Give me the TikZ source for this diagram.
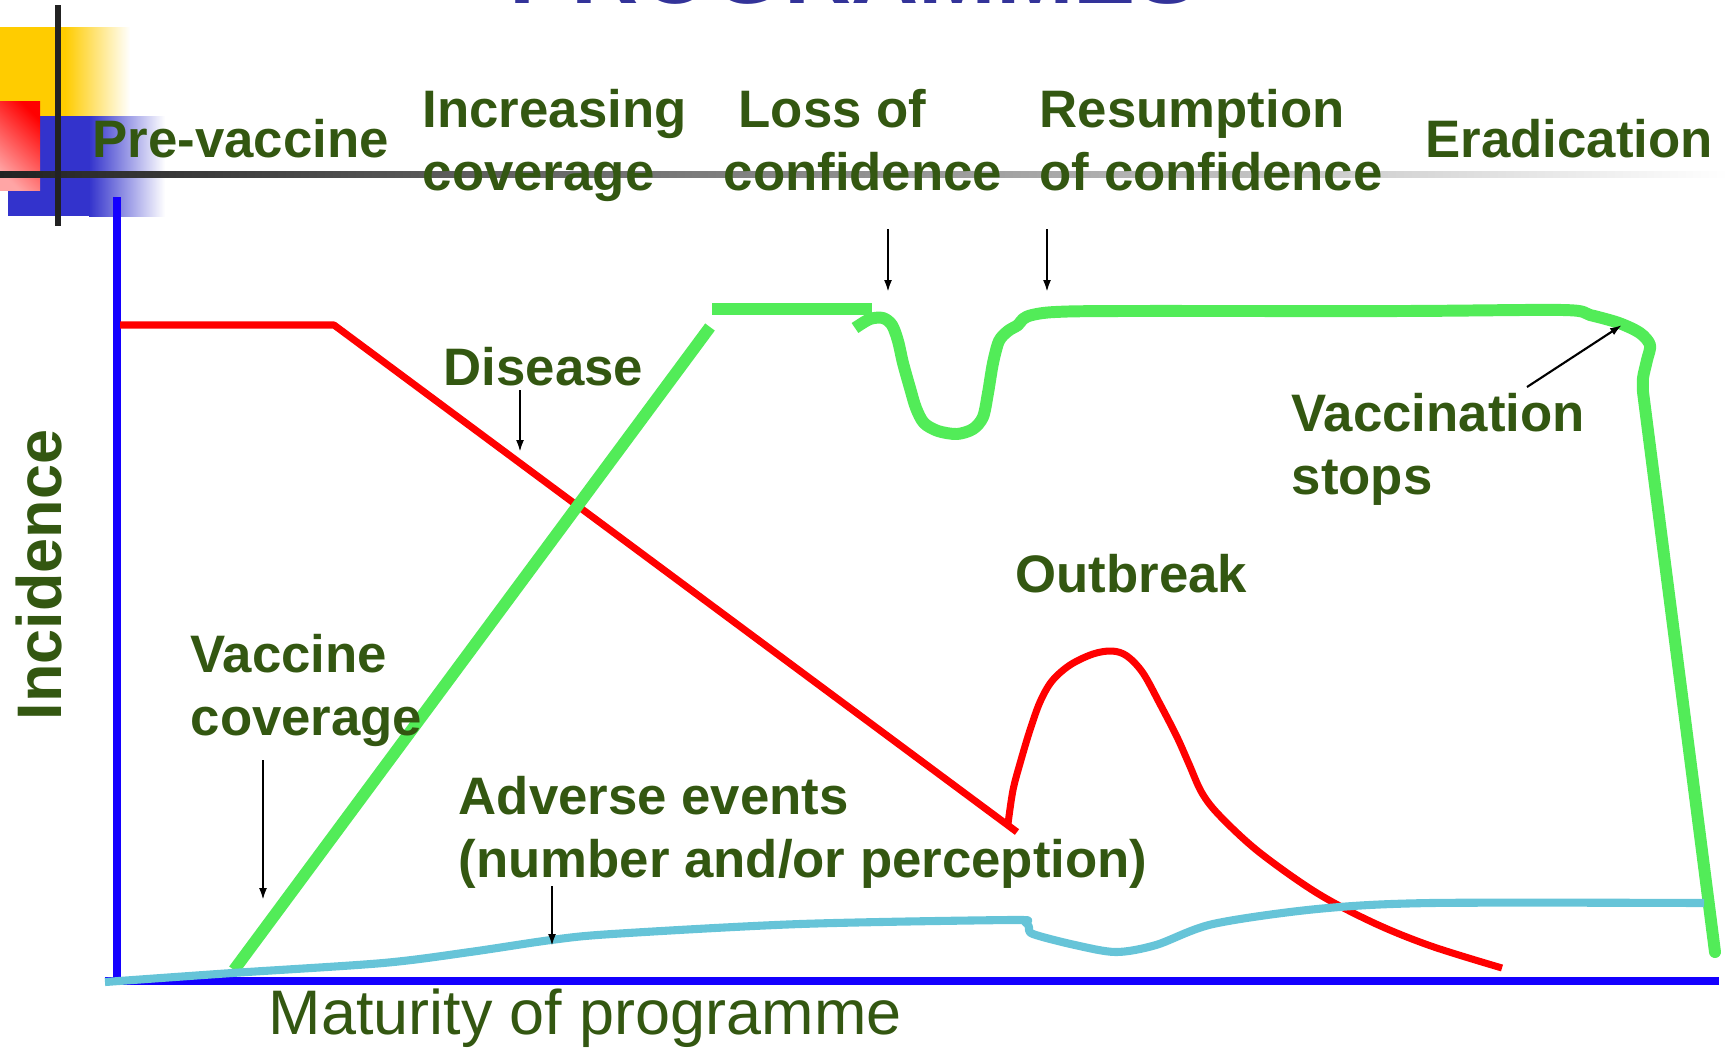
\documentclass[tikz,border=0pt]{standalone}
\usepackage{fontspec}
\setmainfont{Liberation Sans}
\usepackage{tikz}
\usetikzlibrary{arrows.meta}

\definecolor{labelgreen}{RGB}{51,87,17}
\definecolor{coveragegreen}{RGB}{82,236,88}
\definecolor{adversecyan}{RGB}{102,196,216}
\definecolor{axisblue}{RGB}{20,0,255}
\definecolor{titleblue}{RGB}{51,51,153}
\definecolor{decoyellow}{RGB}{255,204,0}
\definecolor{decoblue}{RGB}{51,51,204}
\definecolor{decopink}{RGB}{255,165,165}
\definecolor{rulegray}{RGB}{34,34,34}

\tikzset{
  lbl/.style={text=labelgreen,font=\bfseries\fontsize{15}{17.9}\selectfont,inner sep=0pt,anchor=base west,align=left},
  pointer/.style={black,line width=0.6pt,-{Latex[length=0.12cm,width=0.08cm]}},
  axisline/.style={axisblue,line width=2.2pt},
  diseaseline/.style={red,line width=2pt,line join=round},
  coverageline/.style={coveragegreen,line width=3.4pt,line join=round},
  adverseline/.style={adversecyan,line width=2.3pt,line join=round}
}

\begin{document}
\begin{tikzpicture}[x=0.01cm,y=-0.01cm]
\clip (0,0) rectangle (1732,1047);
% corner squares
\fill[decoyellow] (0,27) rectangle (66,130);
\shade[left color=decoyellow,right color=white] (65,27) rectangle (130,130);
\fill[decoblue] (8,116) rectangle (90,216);
\shade[left color=decoblue,right color=white] (89,116) rectangle (165,216);
\shade[top color=red,bottom color=decopink,shading angle=-45] (0,101) rectangle (40,190);
\shade[left color=rulegray,right color=white] (0,171) rectangle (1728,177);
\fill[rulegray] (55,5) rectangle (61,226);
\node[text=titleblue,font=\bfseries\fontsize{26.5}{30}\selectfont,inner sep=0pt,anchor=base west] (title) at (509,3) {PROGRAMMES};

% axes
\coordinate (ytop) at (117,197);
\coordinate (origin) at (117,981);
\coordinate (xleft) at (105,981);
\coordinate (xright) at (1719,981);
\draw[axisline] (ytop) -- (origin);
\draw[axisline] (xleft) -- (xright);

% curves
\draw[diseaseline] (120,325) -- (334,325) -- (1017,832);
\draw[diseaseline] plot[smooth,tension=0.55] coordinates {(1008,824) (1013,790) (1021,760) (1030,730) (1040,702) (1052,681) (1070,665) (1093,654) (1112,651) (1127,656) (1143,673) (1160,704) (1177,737) (1189,764) (1202,793) (1220,816) (1259,852) (1317,893) (1374,923) (1431,946) (1502,968)};
\draw[coverageline] (234,970) -- (710,327);
\draw[coverageline] (712,309) -- (872,309);
\draw[coverageline] plot[smooth,tension=0.5] coordinates {(855,328) (870,319) (883,318) (892,325) (898,341) (903,363) (910,388) (916,408) (924,423) (938,431) (957,434) (973,429) (983,417) (988,393) (993,363) (999,341) (1008,331) (1018,325) (1023,319) (1032,315) (1055,312) (1120,311) (1400,311) (1563,310) (1590,315) (1619,323) (1640,333) (1650,345) (1647,360) (1643,378) (1643,392)};
\draw[coverageline,line cap=round] (1643,392) -- (1715,952);
\draw[adverseline] plot[smooth,tension=0.5] coordinates {(105,982) (232,973) (383,963) (470,952) (551,940) (612,934) (800,924) (1010,920) (1025,922) (1029,927) (1033,934) (1075,945) (1116,952) (1156,945) (1213,924) (1317,909) (1431,903) (1704,903)};

% labels (base of a two-line label is its second line)
\node[lbl] (prevac) at (92,157) {Pre-vaccine};
\node[lbl] (incr) at (422,190) {Increasing\\coverage};
\node[lbl] (loss) at (723,190) {\hspace*{0.15cm}Loss of\\confidence};
\node[lbl] (resum) at (1039,190) {Resumption\\of confidence};
\node[lbl] (erad) at (1425,157) {Eradication};
\node[lbl] (disease) at (443,385) {Disease};
\node[lbl] (vstops) at (1291,494) {Vaccination\\stops};
\node[lbl] (outbreak) at (1015,592) {Outbreak};
\node[lbl] (vcov) at (190,735) {Vaccine\\coverage};
\node[lbl] (adverse) at (458,877) {Adverse events\\(number and/or perception)};
\node[text=labelgreen,font=\bfseries\fontsize{17.9}{21}\selectfont,inner sep=0pt,anchor=base,rotate=90] (incid) at (61,575) {Incidence};
\node[text=labelgreen,font=\fontsize{17.9}{21}\selectfont,inner sep=0pt,anchor=base west] (maturity) at (268,1034) {Maturity of programme};

% pointers
\coordinate (loss-tail) at (888,229);
\coordinate (loss-tip) at (888,292);
\coordinate (resum-tail) at (1047,229);
\coordinate (resum-tip) at (1047,292);
\coordinate (disease-tail) at (520,390);
\coordinate (disease-tip) at (520,452);
\coordinate (vcov-tail) at (263,760);
\coordinate (vcov-tip) at (263,900);
\coordinate (adverse-tail) at (552,886);
\coordinate (adverse-tip) at (552,946);
\coordinate (vstops-tail) at (1527,387);
\coordinate (vstops-tip) at (1622,325);
\draw[pointer] (loss-tail) -- (loss-tip);
\draw[pointer] (resum-tail) -- (resum-tip);
\draw[pointer] (disease-tail) -- (disease-tip);
\draw[pointer] (vcov-tail) -- (vcov-tip);
\draw[pointer] (adverse-tail) -- (adverse-tip);
\draw[pointer] (vstops-tail) -- (vstops-tip);
\end{tikzpicture}
\end{document}
